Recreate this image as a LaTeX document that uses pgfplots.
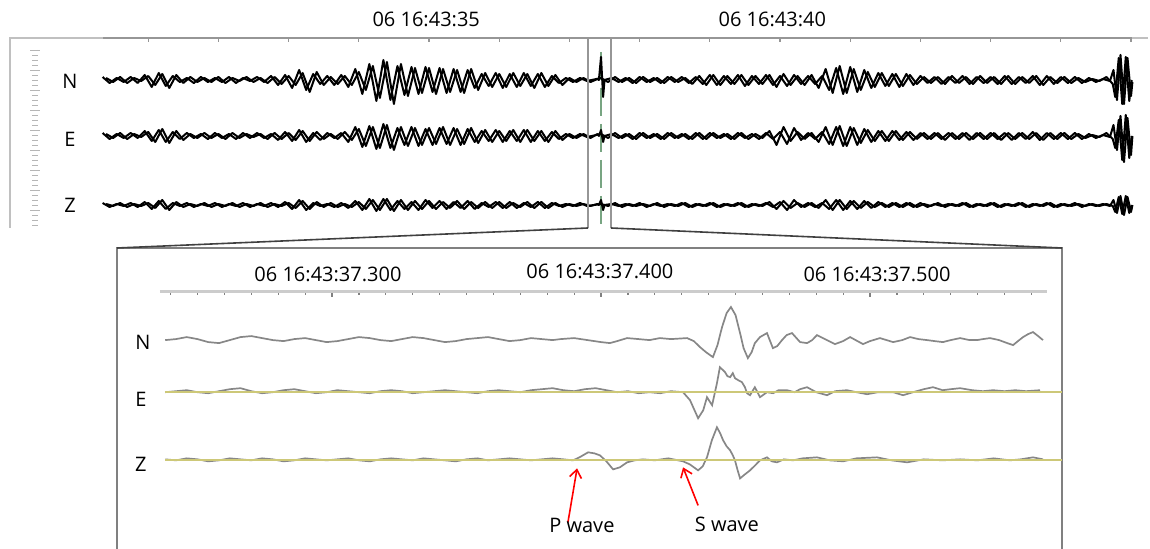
\documentclass[border=0pt]{standalone}
\usepackage{pgfplots}
\pgfplotsset{compat=1.18}
\usepackage{pgfplotstable}
\usetikzlibrary{arrows.meta}
\usepackage{fontspec}
\setmainfont{Open Sans}

\definecolor{trace}{RGB}{135,135,135}
\definecolor{zero}{RGB}{205,200,120}
\definecolor{frame}{RGB}{150,150,150}
\definecolor{pick}{RGB}{120,165,130}

% overview traces, y = -(pixel row)
\pgfplotstableread{
t N E Z
30.4 -78 -134 -204
30.5 -82 -138 -206
30.6 -77 -133 -203
30.7 -83 -139 -207
30.8 -78 -134 -204
30.9 -81 -137 -206
31.0 -76 -132 -203
31.1 -85 -142 -208
31.2 -74 -129 -200
31.3 -88 -143 -210
31.4 -75 -131 -202
31.5 -83 -140 -207
31.6 -77 -134 -204
31.7 -82 -138 -206
31.8 -78 -133 -203
31.9 -82 -138 -207
32.0 -77 -134 -204
32.1 -83 -139 -206
32.2 -78 -133 -203
32.3 -81 -138 -207
32.4 -77 -134 -204
32.5 -82 -137 -206
32.6 -78 -134 -203
32.7 -83 -139 -207
32.8 -77 -133 -204
32.9 -84 -139 -206
33.0 -76 -133 -203
33.1 -85 -140 -208
33.2 -73 -131 -201
33.3 -92 -141 -209
33.4 -72 -132 -202
33.5 -85 -139 -207
33.6 -77 -134 -203
33.7 -84 -139 -207
33.8 -76 -132 -204
33.9 -85 -140 -207
34.0 -72 -129 -202
34.1 -90 -146 -209
34.2 -66 -127 -200
34.3 -98 -148 -210
34.4 -62 -125 -199
34.5 -104 -150 -211
34.6 -64 -127 -200
34.7 -96 -146 -210
34.8 -68 -128 -201
34.9 -93 -145 -209
35.0 -68 -128 -201
35.1 -94 -144 -209
35.2 -69 -127 -202
35.3 -92 -145 -208
35.4 -70 -129 -201
35.5 -93 -144 -209
35.6 -69 -128 -202
35.7 -90 -143 -208
35.8 -73 -130 -202
35.9 -87 -142 -208
36.0 -74 -131 -202
36.1 -87 -141 -208
36.2 -73 -130 -203
36.3 -86 -142 -207
36.4 -74 -130 -202
36.5 -88 -141 -208
36.6 -73 -131 -202
36.7 -86 -142 -208
36.8 -75 -131 -203
36.9 -85 -140 -207
37.0 -78 -134 -204
37.1 -82 -138 -206
37.2 -78 -134 -204
37.3 -82 -138 -206
37.4 -79 -134 -204
37.42 -80 -136 -205
37.45 -57 -130 -200
37.48 -97 -142 -210
37.5 -80 -136 -205
37.6 -78 -134 -204
37.7 -82 -138 -206
37.8 -78 -134 -204
37.9 -83 -139 -206
38.0 -77 -133 -203
38.1 -82 -138 -207
38.2 -78 -134 -204
38.3 -83 -139 -206
38.4 -77 -133 -204
38.5 -82 -138 -206
38.6 -77 -134 -203
38.7 -83 -139 -207
38.8 -77 -133 -204
38.9 -84 -139 -206
39.0 -75 -133 -203
39.1 -85 -138 -207
39.2 -76 -134 -204
39.3 -84 -139 -206
39.4 -75 -133 -203
39.5 -86 -138 -207
39.6 -76 -134 -204
39.7 -84 -139 -206
39.8 -75 -133 -203
39.9 -85 -139 -207
40.0 -76 -132 -202
40.1 -86 -144 -210
40.2 -75 -128 -200
40.3 -84 -140 -207
40.4 -76 -133 -203
40.5 -84 -139 -207
40.6 -76 -132 -203
40.7 -90 -144 -209
40.8 -68 -127 -200
40.9 -94 -146 -210
41.0 -67 -127 -201
41.1 -92 -145 -209
41.2 -70 -129 -201
41.3 -88 -142 -208
41.4 -73 -131 -202
41.5 -86 -141 -207
41.6 -74 -131 -203
41.7 -87 -140 -207
41.8 -74 -132 -203
41.9 -85 -140 -207
42.0 -76 -133 -203
42.1 -83 -139 -207
42.2 -77 -133 -204
42.3 -84 -139 -206
42.4 -77 -133 -204
42.5 -83 -139 -206
42.6 -76 -133 -203
42.7 -84 -140 -207
42.8 -77 -133 -204
42.9 -83 -139 -206
43.0 -77 -133 -203
43.1 -84 -139 -207
43.2 -76 -133 -204
43.3 -84 -140 -206
43.4 -77 -133 -203
43.5 -83 -139 -207
43.6 -76 -132 -204
43.7 -85 -140 -206
43.8 -76 -133 -203
43.9 -84 -139 -207
44.0 -77 -133 -204
44.1 -83 -139 -206
44.2 -77 -133 -203
44.3 -83 -139 -207
44.4 -78 -134 -204
44.5 -82 -138 -206
44.6 -79 -135 -204
44.7 -81 -137 -206
44.75 -70 -125 -200
44.8 -100 -150 -213
44.85 -55 -116 -196
44.9 -104 -162 -215
44.95 -58 -118 -197
45.0 -96 -155 -212
45.02 -82 -136 -205
}\overviewA

% second pass of the same records, sampled between the first
\pgfplotstableread{
t N E Z
30.35 -77 -133 -203
30.45 -83 -139 -207
30.55 -78 -134 -204
30.65 -82 -138 -206
30.75 -77 -133 -203
30.85 -83 -138 -207
30.95 -75 -131 -202
31.05 -87 -141 -209
31.15 -73 -130 -201
31.25 -86 -142 -209
31.35 -76 -132 -203
31.45 -82 -139 -206
31.55 -78 -133 -203
31.65 -83 -138 -207
31.75 -77 -134 -204
31.85 -82 -139 -206
31.95 -78 -133 -203
32.05 -82 -138 -207
32.15 -77 -134 -204
32.25 -83 -139 -206
32.35 -78 -133 -203
32.45 -81 -138 -207
32.55 -77 -133 -204
32.65 -82 -138 -206
32.75 -76 -134 -203
32.85 -85 -140 -207
32.95 -75 -132 -202
33.05 -88 -141 -209
33.15 -70 -130 -200
33.25 -90 -142 -210
33.35 -74 -133 -203
33.45 -84 -140 -206
33.55 -76 -133 -204
33.65 -85 -138 -207
33.75 -75 -133 -203
33.85 -87 -142 -208
33.95 -69 -127 -201
34.05 -94 -147 -210
34.15 -64 -126 -199
34.25 -101 -149 -211
34.35 -60 -124 -199
34.45 -100 -148 -210
34.55 -66 -128 -201
34.65 -95 -145 -209
34.75 -67 -127 -202
34.85 -94 -146 -210
34.95 -67 -129 -200
35.05 -92 -145 -208
35.15 -68 -128 -201
35.25 -93 -144 -209
35.35 -69 -128 -202
35.45 -92 -145 -208
35.55 -70 -129 -201
35.65 -88 -142 -209
35.75 -74 -131 -203
35.85 -86 -141 -207
35.95 -73 -130 -202
36.05 -88 -142 -208
36.15 -74 -131 -202
36.25 -87 -141 -208
36.35 -73 -130 -203
36.45 -86 -142 -207
36.55 -74 -131 -202
36.65 -87 -141 -208
36.75 -76 -132 -203
36.85 -83 -139 -206
36.95 -78 -134 -204
37.05 -82 -138 -206
37.15 -78 -134 -203
37.25 -81 -137 -206
37.45 -78 -134 -204
37.55 -82 -138 -206
37.65 -77 -133 -203
37.75 -82 -138 -207
37.85 -78 -134 -204
37.95 -83 -139 -206
38.05 -77 -133 -204
38.15 -82 -138 -206
38.25 -78 -134 -203
38.35 -83 -139 -207
38.45 -77 -133 -204
38.55 -82 -138 -206
38.65 -78 -134 -203
38.75 -84 -139 -207
38.85 -76 -133 -204
38.95 -85 -139 -206
39.05 -75 -133 -203
39.15 -85 -138 -207
39.25 -76 -134 -204
39.35 -84 -139 -206
39.45 -75 -133 -203
39.55 -85 -139 -207
39.65 -76 -134 -204
39.75 -84 -138 -206
39.85 -75 -131 -202
39.95 -87 -145 -209
40.05 -74 -127 -201
40.15 -85 -141 -208
40.25 -76 -132 -203
40.35 -85 -139 -207
40.45 -75 -133 -203
40.55 -88 -142 -208
40.65 -69 -127 -200
40.75 -93 -145 -210
40.85 -66 -126 -200
40.95 -93 -146 -209
41.05 -69 -128 -201
41.15 -90 -143 -208
41.25 -72 -130 -202
41.35 -87 -141 -207
41.45 -73 -131 -203
41.55 -86 -141 -207
41.65 -74 -131 -203
41.75 -86 -140 -207
41.85 -75 -132 -203
41.95 -84 -139 -207
42.05 -77 -133 -204
42.15 -83 -139 -206
42.25 -77 -133 -203
42.35 -84 -140 -207
42.45 -76 -133 -204
42.55 -83 -139 -206
42.65 -77 -133 -203
42.75 -84 -139 -207
42.85 -76 -133 -204
42.95 -83 -139 -206
43.05 -77 -133 -203
43.15 -84 -140 -207
43.25 -76 -133 -204
43.35 -84 -139 -206
43.45 -77 -133 -203
43.55 -83 -139 -207
43.65 -76 -133 -204
43.75 -85 -140 -206
43.85 -77 -133 -203
43.95 -83 -139 -207
44.05 -77 -133 -204
44.15 -83 -139 -206
44.25 -78 -134 -204
44.35 -82 -138 -206
44.45 -79 -135 -204
44.55 -81 -137 -206
44.65 -77 -133 -204
44.74 -84 -139 -206
44.775 -97 -148 -212
44.825 -58 -120 -197
44.875 -104 -160 -214
44.925 -57 -115 -196
44.975 -101 -158 -213
45.01 -80 -136 -205
}\overviewB

\begin{document}
\begin{tikzpicture}[font=\fontsize{10}{12}\selectfont]
\useasboundingbox (0,0) rectangle (575pt,-274.5pt);

% ---- overview panel
\begin{axis}[
  at={(5pt,-19pt)}, anchor=north west,
  scale only axis, width=569pt, height=95pt,
  xmin=29.031, xmax=45.242, ymin=-228, ymax=-38,
  axis line style={draw=none},
  xtick={31,...,45}, xticklabels={}, xtick pos=right,
  ytick=\empty, tick align=inside, major tick length=2pt,
  tick style={frame, line width=0.6pt},
  clip=false]
\draw[frame!60, line width=1pt] (axis cs:29.031,-228) -- (axis cs:29.031,-38) -- (axis cs:45.242,-38);
\draw[frame, line width=1pt] (axis cs:30.36,-38) -- (axis cs:45.01,-38);
\draw[pick, line width=1pt, dash pattern=on 14pt off 4pt] (axis cs:37.45,-52) -- (axis cs:37.45,-225);
\addplot[black, line width=1pt, line join=round] table[x=t, y=N] {\overviewA};
\addplot[black, line width=1pt, line join=round] table[x=t, y=N] {\overviewB};
\addplot[black, line width=1pt, line join=round] table[x=t, y=E] {\overviewA};
\addplot[black, line width=1pt, line join=round] table[x=t, y=E] {\overviewB};
\addplot[black, line width=1pt, line join=round] table[x=t, y=Z] {\overviewA};
\addplot[black, line width=1pt, line join=round] table[x=t, y=Z] {\overviewB};
\draw[frame, line width=1pt] (axis cs:37.265,-38) -- (axis cs:37.265,-228);
\draw[frame, line width=1pt] (axis cs:37.593,-38) -- (axis cs:37.593,-228);
\node at (axis cs:34.96,-19) {06 16:43:35};
\node at (axis cs:39.89,-19) {06 16:43:40};
\node at (axis cs:29.886,-81) {N};
\node at (axis cs:29.886,-139) {E};
\node at (axis cs:29.886,-205) {Z};
\end{axis}

% ---- zoomed panel
\begin{axis}[
  at={(58.5pt,-146pt)}, anchor=north west,
  scale only axis, width=473pt, height=128.5pt,
  xmin=220.07, xmax=571.75, ymin=-549, ymax=-292,
  axis line style={draw=none},
  xtick={300,400,500}, minor xtick={240,250,...,560},
  xticklabels={}, xtick pos=right,
  ytick=\empty, tick align=inside,
  major tick length=2.6pt, minor tick length=1.6pt,
  tick style={gray, line width=0.6pt},
  clip=false]
\draw[gray, line width=1pt] (axis cs:220.07,-549) -- (axis cs:220.07,-248)
  -- (axis cs:571.4,-248) -- (axis cs:571.4,-549);
\draw[black!20, line width=1.5pt] (axis cs:236,-292) -- (axis cs:565.8,-292);
% N
\addplot[trace, line width=0.85pt] coordinates {
(238,-340)(242,-339)(246,-337)(250,-339)(254,-342)(258,-343)(262,-340)(266,-337)
(270,-336)(274,-338)(278,-340)(282,-341)(286,-339)(290,-338)(294,-340)(298,-342)
(302,-341)(306,-339)(310,-337)(314,-338)(318,-340)(322,-341)(326,-339)(330,-337)
(334,-338)(338,-340)(342,-342)(346,-341)(350,-339)(354,-338)(358,-337)(362,-339)
(366,-341)(370,-340)(374,-338)(378,-339)(382,-340)(385,-339)(390,-338)(395,-340)
(400,-342)(403.3,-343)(406,-341)(409.7,-338)(414,-339)(418,-340)(421.9,-338)
(426,-339)(432,-338)(434.5,-341)(436.8,-347)(439,-352)(441.6,-357)(443.3,-345)
(445,-327)(446.7,-313)(448.3,-307)(450,-315)(451.7,-333)(453,-348)(454.6,-358)
(456,-352)(457.2,-343)(459.1,-337)(461.7,-333)(463.9,-348)(465.5,-346)(467.3,-340)
(469,-335)(471,-333)(474,-342)(476.6,-343)(478.5,-340)(480.3,-335)(484,-340)
(487,-344)(490,-341)(492.6,-337)(497.4,-344)(500,-341)(503.7,-338)(508.6,-342)
(512,-340)(514.9,-337)(518,-339)(521.2,-340)(524,-341)(527.1,-342)(530,-340)
(533.5,-338)(537,-340)(539.8,-340)(542,-339)(544.6,-338)(548,-340)(551,-343)
(553.2,-345)(555,-341)(556.9,-337)(558.8,-334)(560.6,-332)(562.5,-336)(564.3,-340)};
% E
\addplot[trace, line width=0.85pt] coordinates {
(238,-392)(242,-391)(246,-390)(250,-392)(254,-393)(258,-391)(262,-389)(266,-388)
(270,-391)(274,-393)(278,-392)(282,-390)(286,-389)(290,-391)(294,-393)(298,-392)
(302,-390)(306,-391)(310,-392)(314,-393)(318,-391)(322,-390)(326,-391)(330,-393)
(334,-392)(338,-391)(342,-390)(346,-391)(350,-392)(354,-393)(358,-391)(362,-390)
(366,-391)(370,-392)(374,-390)(378,-389)(382,-388)(386,-390)(390,-391)(394,-389)
(398,-388)(402,-390)(406,-392)(410,-391)(414,-393)(418,-392)(422,-393)(426,-391)
(430.5,-392)(433.1,-400)(436.1,-418)(438,-410)(439.4,-397)(441.3,-405)(443.1,-383)
(444.2,-367)(446.1,-372)(447,-376)(448,-377)(449,-373)(449.8,-378)(451,-380)
(452.4,-382)(453.5,-387)(454.3,-393)(455.4,-395)(457.2,-387)(459.1,-397)(461.7,-392)
(464,-393)(466,-390)(469.1,-390)(472,-392)(474,-389)(476.6,-387)(480,-392)(484,-395)
(487,-391)(491.4,-390)(495,-392)(498.9,-394)(503,-392)(508.6,-392)(512.3,-395)
(516,-392)(520,-389)(523.4,-387)(527,-390)(530,-389)(533.5,-388)(538,-390)(542,-391)
(545.7,-390)(550,-391)(554,-390)(558,-391)(563.2,-390)};
% Z
\addplot[trace, line width=0.85pt] coordinates {
(238,-459)(242,-460)(246,-458)(250,-459)(254,-461)(258,-460)(262,-458)(266,-459)
(270,-460)(274,-458)(278,-459)(282,-461)(286,-460)(290,-458)(294,-459)(298,-460)
(302,-459)(306,-458)(310,-460)(314,-461)(318,-459)(322,-458)(326,-459)(330,-460)
(334,-458)(338,-459)(342,-460)(346,-461)(350,-459)(354,-458)(358,-460)(362,-459)
(366,-458)(370,-459)(374,-460)(378,-459)(382,-458)(386,-459)(389.6,-460)(392,-457)
(395.2,-452)(397.5,-453)(399.6,-455)(402,-461)(404.5,-469)(407,-467)(409.7,-462)
(412.5,-460)(415.6,-459)(420,-460)(425,-458)(430.5,-461)(433,-464)(436.1,-470)
(437.8,-466)(439.4,-457)(441.2,-440)(443.1,-427)(444.3,-433)(445.4,-440)(446.7,-446)
(448,-450)(449,-455)(449.8,-460)(450.8,-470)(451.7,-478)(453.5,-474)(455.4,-470)
(457.3,-465)(459.1,-460)(461.7,-457)(463.5,-461)(465.4,-462)(468,-459)(471.4,-460)
(475,-458)(480.3,-457)(485,-460)(490,-461)(495,-458)(502.6,-457)(508,-460)
(513.8,-462)(520,-459)(527,-460)(533.5,-459)(540,-460)(546,-458)(552,-460)
(556,-459)(560.6,-457)(564.3,-459)};
\addplot[zero, line width=0.8pt] coordinates {(237.9,-392)(571.4,-392)};
\addplot[zero, line width=0.8pt] coordinates {(237.9,-459.5)(571.4,-459.5)};
\node at (axis cs:298.5,-274) {06 16:43:37.300};
\node at (axis cs:399.6,-271) {06 16:43:37.400};
\node at (axis cs:502.6,-274) {06 16:43:37.500};
\node at (axis cs:229.7,-342) {N};
\node at (axis cs:228.95,-399) {E};
\node at (axis cs:228.95,-464) {Z};
\draw[red, line width=0.8pt, -{Straight Barb[length=4pt,width=6pt]}]
  (axis cs:387.7,-522) -- (axis cs:391.1,-468);
\draw[red, line width=0.8pt, -{Straight Barb[length=4pt,width=6pt]}]
  (axis cs:436.1,-505) -- (axis cs:430.5,-467);
\node at (axis cs:392.9,-525) {P wave};
\node at (axis cs:446.8,-524) {S wave};
\end{axis}

% ---- decorations in pixel units
\begin{scope}[x=0.5pt, y=-0.5pt]
\draw[frame!70, line width=3pt, dash pattern=on 0.6pt off 1.9pt] (35,50) -- (35,229);
\draw[frame!70, line width=5pt, dash pattern=on 0.6pt off 9.4pt] (35,50) -- (35,229);
\draw[black!75, line width=0.8pt] (588,228) -- (117,248);
\draw[black!75, line width=0.8pt] (611,228) -- (1062,248);
\end{scope}
\end{tikzpicture}
\end{document}
